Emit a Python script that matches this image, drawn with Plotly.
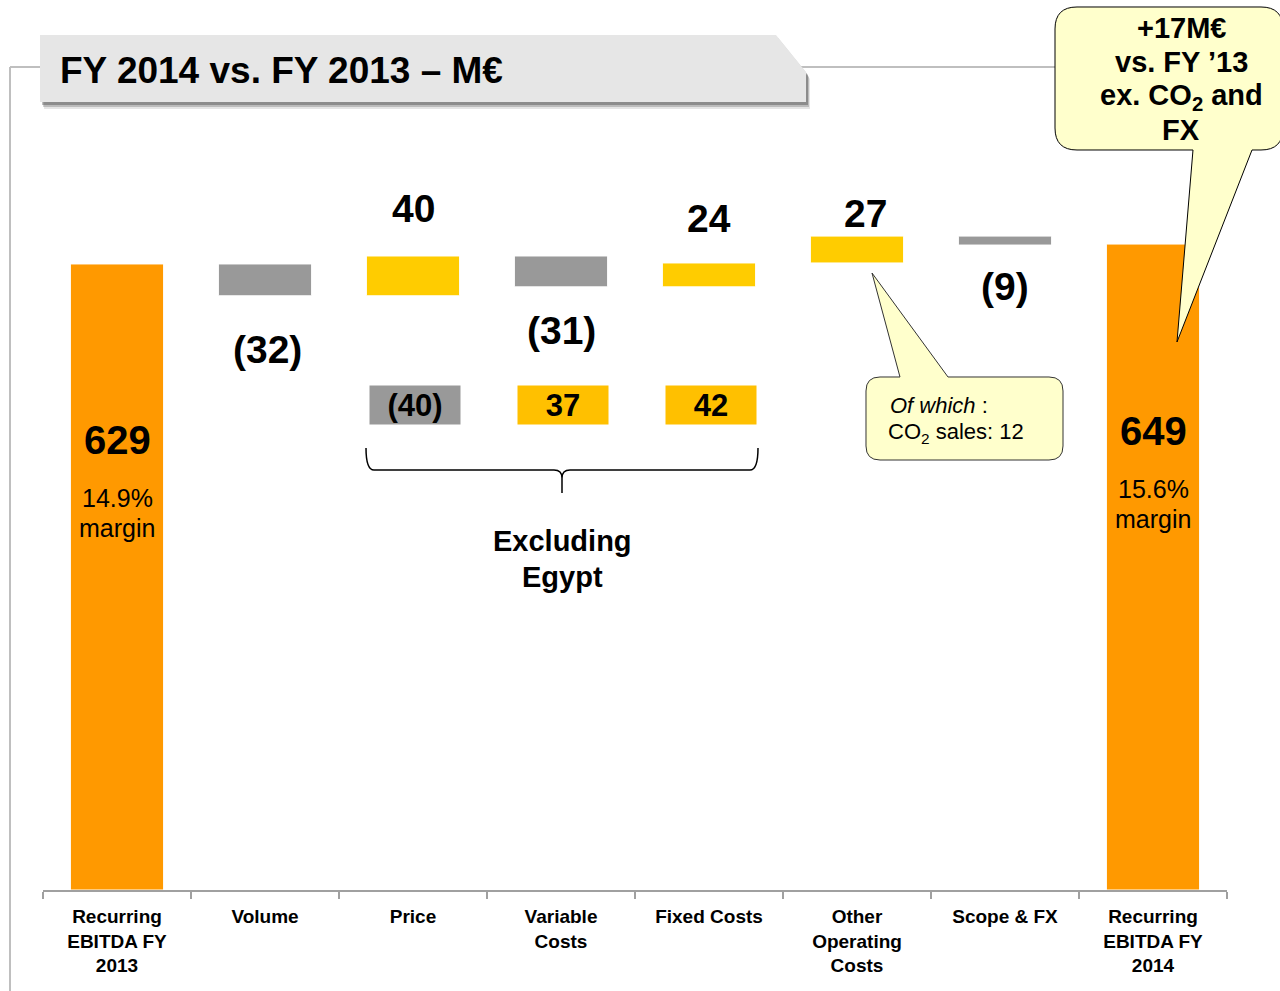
import plotly.graph_objects as go

# ---------------- data ----------------
categories = ["Recurring EBITDA FY 2013", "Volume", "Price", "Variable Costs",
              "Fixed Costs", "Other Operating Costs", "Scope & FX", "Recurring EBITDA FY 2014"]
tick_labels = ["Recurring<br>EBITDA FY<br>2013", "Volume", "Price", "Variable<br>Costs",
               "Fixed Costs", "Other<br>Operating<br>Costs", "Scope & FX", "Recurring<br>EBITDA FY<br>2014"]
measures = ["absolute", "relative", "relative", "relative", "relative", "relative", "relative", "absolute"]
values = [629, -32, 40, -31, 24, 27, -9, 649]
margin_labels = ["14.9%", None, None, None, None, None, None, "15.6%"]
egypt_categories = ["Price", "Variable Costs", "Fixed Costs"]
egypt_values = [-40, 37, 42]
co2_sales = 12
delta_vs_fy13 = 17
title_text = "FY 2014 vs. FY 2013 – M€"

# ---------------- styles / layout constants ----------------
W, H = 1280, 991
ORANGE = "#FF9900"
GREY = "#999999"
YELLOW = "#FFCC00"
AMBER = "#FFC000"
CALLOUT = "#FFFFCC"
ARIAL = "Liberation Sans, Arial, sans-serif"
NARROW = "Liberation Sans Narrow, Arial Narrow, Liberation Sans, sans-serif"
label_shift = [None, -54, 47, -44, 44, 23, -41, None]   # px offsets of value labels
label_xshift = [0, 2, 0, 0, 0, 8, 0, 0]
PLOT_L, PLOT_R, PLOT_T, PLOT_B = 43, 1227, 100, 890
PX_PER_UNIT = 0.9953


def fx(x):
    return x / W


def fy(y):
    return 1 - y / H


def path(cmds):
    out = []
    for c in cmds:
        if isinstance(c, str):
            out.append(c)
        else:
            pts = []
            for i in range(0, len(c), 2):
                pts.append(f"{fx(c[i]):.5f},{fy(c[i+1]):.5f}")
            out.append(" ".join(pts))
    return " ".join(out)


def fmt(v):
    return f"({abs(v)})" if v < 0 else f"{v}"


fig = go.Figure()

fig.add_trace(go.Waterfall(
    x=categories, y=values, measure=measures,
    width=0.63,
    connector=dict(visible=False),
    increasing=dict(marker=dict(color=YELLOW, line=dict(color="white", width=1))),
    decreasing=dict(marker=dict(color=GREY, line=dict(color="white", width=1))),
    totals=dict(marker=dict(color=ORANGE, line=dict(color="white", width=1))),
    textinfo="none", hoverinfo="x+y", showlegend=False,
))

shapes = []
annotations = []

# frame lines
shapes.append(dict(type="line", xref="paper", yref="paper", x0=fx(10), y0=fy(67), x1=fx(10), y1=fy(991),
                   line=dict(color="#BFBFBF", width=2)))
shapes.append(dict(type="line", xref="paper", yref="paper", x0=fx(10), y0=fy(67), x1=fx(1060), y1=fy(67),
                   line=dict(color="#BFBFBF", width=2)))

# title tab with shadow
tab = [(40, 35), (776, 35), (806, 72), (806, 102), (40, 102)]
for (dx, dy, col) in [(4, 7, "rgba(0,0,0,0.10)"), (3, 5, "rgba(0,0,0,0.18)"), (2, 3, "rgba(0,0,0,0.25)")]:
    pts = [v for p in tab for v in (p[0] + dx, p[1] + dy)]
    shapes.append(dict(type="path", xref="paper", yref="paper",
                       path=path(["M", pts[0:2], "L", pts[2:4], "L", pts[4:6], "L", pts[6:8], "L", pts[8:10], "Z"]),
                       fillcolor=col, line=dict(width=0)))
pts = [v for p in tab for v in p]
shapes.append(dict(type="path", xref="paper", yref="paper",
                   path=path(["M", pts[0:2], "L", pts[2:4], "L", pts[4:6], "L", pts[6:8], "L", pts[8:10], "Z"]),
                   fillcolor="#E6E6E6", line=dict(width=0)))
annotations.append(dict(xref="paper", yref="paper", x=fx(58), y=fy(71), xanchor="left", yanchor="middle",
                        text=f"<b>{title_text}</b>", showarrow=False,
                        font=dict(family=NARROW, size=37, color="black")))

# top-right speech bubble
bubble = path(["M", (1077, 7), "L", (1261, 7), "Q", (1283, 7, 1283, 29), "L", (1283, 128),
               "Q", (1283, 150, 1261, 150), "L", (1252, 150), "L", (1177, 342), "L", (1193, 150),
               "L", (1077, 150), "Q", (1055, 150, 1055, 128), "L", (1055, 29), "Q", (1055, 7, 1077, 7), "Z"])
shapes.append(dict(type="path", xref="paper", yref="paper", path=bubble, fillcolor=CALLOUT,
                   line=dict(color="black", width=1)))
bubble_lines = [f"+{delta_vs_fy13}M€", "vs. FY ’13", "ex. CO<sub>2</sub> and", "FX"]
for txt, yy in zip(bubble_lines, [28, 62, 97, 130]):
    annotations.append(dict(xref="paper", yref="paper", x=fx(1181), y=fy(yy), xanchor="center", yanchor="middle",
                            text=f"<b>{txt}</b>", showarrow=False,
                            font=dict(family=ARIAL, size=29, color="black")))

# CO2 callout
co2 = path(["M", (880, 377), "L", (900, 377), "L", (872, 273), "L", (948, 377), "L", (1049, 377),
            "Q", (1063, 377, 1063, 391), "L", (1063, 446), "Q", (1063, 460, 1049, 460), "L", (880, 460),
            "Q", (866, 460, 866, 446), "L", (866, 391), "Q", (866, 377, 880, 377), "Z"])
shapes.append(dict(type="path", xref="paper", yref="paper", path=co2, fillcolor=CALLOUT,
                   line=dict(color="#333333", width=1)))
annotations.append(dict(xref="paper", yref="paper", x=fx(888), y=fy(405), xanchor="left", yanchor="middle",
                        text="<i>Of which</i> :", showarrow=False,
                        font=dict(family=ARIAL, size=22, color="black")))
annotations.append(dict(xref="paper", yref="paper", x=fx(886), y=fy(433), xanchor="left", yanchor="middle",
                        text=f"CO<sub>2</sub> sales: {co2_sales}", showarrow=False,
                        font=dict(family=ARIAL, size=22, color="black")))

# value labels for deltas
cum = 0
for i, (cat, v, m) in enumerate(zip(categories, values, measures)):
    if m == "absolute":
        cum = v
        continue
    cum += v
    annotations.append(dict(xref="x", yref="y", x=cat, y=cum, yshift=label_shift[i], xshift=label_xshift[i],
                            xanchor="center", yanchor="middle", text=f"<b>{fmt(v)}</b>", showarrow=False,
                            font=dict(family=ARIAL, size=39, color="black")))

# total labels
total_pos = {0: (440, 498, 528), 7: (431, 489, 519)}
for i, (ylab, ypct, ymar) in total_pos.items():
    annotations.append(dict(xref="x", yref="paper", x=categories[i], y=fy(ylab), xanchor="center",
                            yanchor="middle", text=f"<b>{values[i]}</b>", showarrow=False,
                            font=dict(family=ARIAL, size=40, color="black")))
    annotations.append(dict(xref="x", yref="paper", x=categories[i], y=fy(ypct), xanchor="center",
                            yanchor="middle", text=margin_labels[i], showarrow=False,
                            font=dict(family=ARIAL, size=25, color="black")))
    annotations.append(dict(xref="x", yref="paper", x=categories[i], y=fy(ymar), xanchor="center",
                            yanchor="middle", text="margin", showarrow=False,
                            font=dict(family=ARIAL, size=25, color="black")))

# excluding Egypt boxes
for cat, v in zip(egypt_categories, egypt_values):
    annotations.append(dict(xref="x", yref="paper", x=cat, xshift=2, y=fy(405), xanchor="center",
                            yanchor="middle", text=f"<b>{fmt(v)}</b>", showarrow=False,
                            bgcolor=GREY if v < 0 else AMBER, width=90, height=38, borderpad=0,
                            font=dict(family=ARIAL, size=31, color="black")))

# brace
brace = path(["M", (366, 448), "Q", (366, 470, 374, 470), "L", (554, 470), "Q", (562, 470, 562, 478),
              "L", (562, 493), "M", (562, 478), "Q", (562, 470, 570, 470), "L", (750, 470),
              "Q", (758, 470, 758, 448)])
shapes.append(dict(type="path", xref="paper", yref="paper", path=brace, line=dict(color="black", width=1.5)))
annotations.append(dict(xref="paper", yref="paper", x=fx(562), y=fy(541), xanchor="center", yanchor="middle",
                        text="<b>Excluding</b>", showarrow=False, font=dict(family=ARIAL, size=29, color="black")))
annotations.append(dict(xref="paper", yref="paper", x=fx(562), y=fy(577), xanchor="center", yanchor="middle",
                        text="<b>Egypt</b>", showarrow=False, font=dict(family=ARIAL, size=29, color="black")))

fig.update_layout(
    width=W, height=H,
    margin=dict(l=0, r=0, t=0, b=0),
    paper_bgcolor="white", plot_bgcolor="white",
    shapes=shapes, annotations=annotations,
    xaxis=dict(domain=[fx(PLOT_L), fx(PLOT_R)], type="category", tickmode="array",
               tickvals=categories, ticktext=tick_labels, tickson="boundaries",
               ticks="outside", ticklen=7, tickcolor="#A0A0A0", tickwidth=2,
               showline=True, linecolor="#A0A0A0", linewidth=2, showgrid=False,
               ticklabelstandoff=8,
               tickfont=dict(family=NARROW, size=19, color="black", weight="bold"),
               fixedrange=True),
    yaxis=dict(domain=[fy(PLOT_B), fy(PLOT_T)], range=[0, (PLOT_B - PLOT_T) / PX_PER_UNIT],
               visible=False, showgrid=False, zeroline=False, fixedrange=True),
)

fig.write_html("out.html", config={"displayModeBar": False},
               post_script="document.body.style.margin='0';document.body.style.padding='0';document.body.style.overflow='hidden';")
